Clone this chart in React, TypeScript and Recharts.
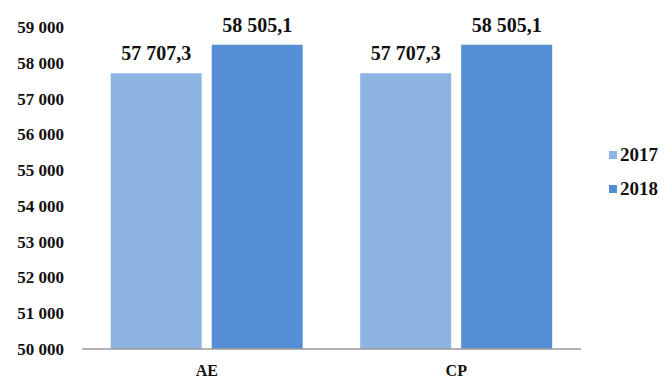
import { BarChart, Bar, XAxis, YAxis, Legend, LabelList } from "recharts";

const categories = ["AE", "CP"];
const values2017 = [57707.3, 57707.3];
const values2018 = [58505.1, 58505.1];
const yTicks = [50000, 51000, 52000, 53000, 54000, 55000, 56000, 57000, 58000, 59000];

const COLOR_2017 = "#8EB4E3";
const COLOR_2018 = "#558ED5";
const FONT = "'Liberation Serif', 'Times New Roman', serif";

const data = categories.map((c, i) => ({
  name: c,
  y2017: values2017[i],
  y2018: values2018[i],
}));

// 57707.3 -> "57 707,3", 59000 -> "59 000"
function fmt(v: number, decimals: number) {
  const [int, dec] = v.toFixed(decimals).split(".");
  const grouped = int.replace(/\B(?=(\d{3})+(?!\d))/g, " ");
  return dec ? `${grouped},${dec}` : grouped;
}

function LegendBox({ payload }: { payload?: any[] }) {
  return (
    <div style={{ fontFamily: FONT, fontWeight: "bold", fontSize: 19, color: "#111" }}>
      {(payload ?? []).map((p) => (
        <div
          key={p.value}
          style={{ display: "flex", alignItems: "center", height: 34 }}
        >
          <span
            style={{ width: 8, height: 8, background: p.color, marginRight: 3 }}
          />
          {p.value}
        </div>
      ))}
    </div>
  );
}

export default function App() {
  return (
    <div style={{ position: "absolute", left: 0, top: 0, background: "#fff" }}>
      <BarChart
        width={665}
        height={381}
        data={data}
        // the legend box (60px) is also taken off the right side
        margin={{ top: 27, right: 24, bottom: 0, left: 0 }}
        barCategoryGap="11.5%"
        barGap={10}
      >
        <XAxis
          dataKey="name"
          height={32}
          axisLine={{ stroke: "#9a9a9a", strokeWidth: 1.5 }}
          tickLine={false}
          tickSize={0}
          tickMargin={16}
          tick={{ fontFamily: FONT, fontWeight: "bold", fontSize: 16, fill: "#111" }}
        />
        <YAxis
          width={82}
          domain={[50000, 59000]}
          ticks={yTicks}
          interval={0}
          axisLine={false}
          tickLine={false}
          tickSize={0}
          tickMargin={18}
          tickFormatter={(v: number) => fmt(v, 0)}
          tick={{ fontFamily: FONT, fontWeight: "bold", fontSize: 17, fill: "#111" }}
        />
        <Legend
          layout="horizontal"
          verticalAlign="middle"
          align="right"
          content={<LegendBox />}
          wrapperStyle={{ left: 609, top: 138, width: 60 }}
        />
        <Bar dataKey="y2017" name="2017" fill={COLOR_2017} isAnimationActive={false}>
          <LabelList
            dataKey="y2017"
            position="top"
            offset={13}
            formatter={(v: number) => fmt(v, 1)}
            style={{ fontFamily: FONT, fontWeight: "bold", fontSize: 20, fill: "#111" }}
          />
        </Bar>
        <Bar dataKey="y2018" name="2018" fill={COLOR_2018} isAnimationActive={false}>
          <LabelList
            dataKey="y2018"
            position="top"
            offset={13}
            formatter={(v: number) => fmt(v, 1)}
            style={{ fontFamily: FONT, fontWeight: "bold", fontSize: 20, fill: "#111" }}
          />
        </Bar>
      </BarChart>
    </div>
  );
}
